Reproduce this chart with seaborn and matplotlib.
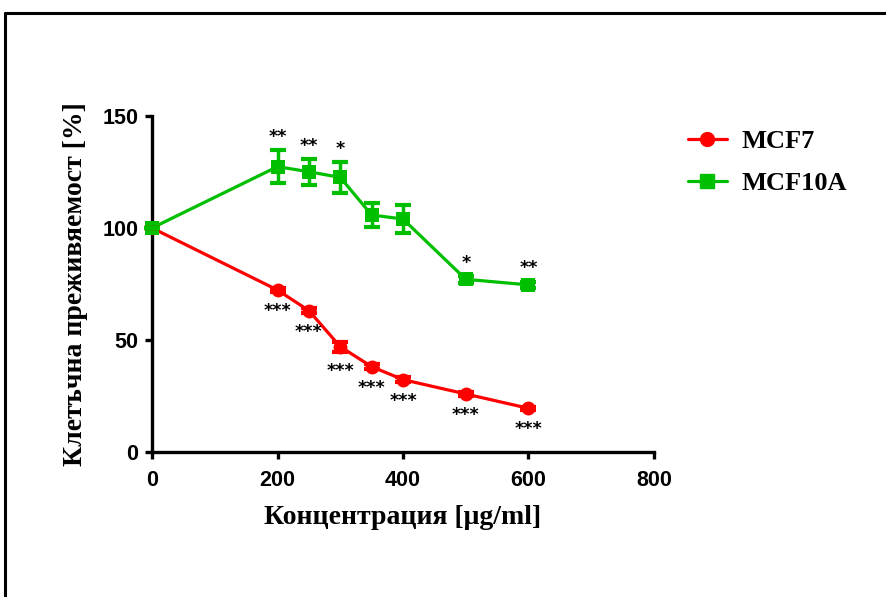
import matplotlib
matplotlib.use("Agg")
import matplotlib.pyplot as plt
import seaborn as sns
import pandas as pd
from matplotlib.lines import Line2D

conc = [0, 200, 250, 300, 350, 400, 500, 600]
mcf7 = [100, 72.3, 63.1, 47.0, 38.1, 32.3, 25.9, 19.5]
mcf7_err = [0, 1.0, 1.0, 2.2, 1.0, 1.0, 0.8, 0.8]
mcf10a = [100, 127.4, 125.1, 122.6, 105.8, 104.0, 77.1, 74.6]
mcf10a_err = [0, 7.4, 5.7, 6.8, 5.4, 6.2, 1.5, 1.5]
sig7 = ["", "***", "***", "***", "***", "***", "***", "***"]
sig10 = ["", "**", "**", "*", "", "", "*", "**"]
series = ["MCF7", "MCF10A"]
colors = {"MCF7": "#ff0000", "MCF10A": "#00bf00"}

df = pd.DataFrame({
    "conc": conc * 2,
    "val": mcf7 + mcf10a,
    "err": mcf7_err + mcf10a_err,
    "line": ["MCF7"] * len(conc) + ["MCF10A"] * len(conc),
})

sns.set_style("ticks")
plt.rcParams.update({"text.color": "black", "axes.labelcolor": "black",
                     "xtick.color": "black", "ytick.color": "black",
                     "axes.edgecolor": "black"})
fig = plt.figure(figsize=(8.87, 5.97), dpi=100)
ax = fig.add_axes([0.1714, 0.2429, 0.7373 - 0.1714, 0.8057 - 0.2429])

sns.lineplot(data=df, x="conc", y="val", hue="line", style="line",
             markers={"MCF7": "o", "MCF10A": "s"}, dashes=False,
             palette=colors, linewidth=2.3, markersize=10, markeredgewidth=0,
             ax=ax, legend=False, clip_on=False, zorder=3)
for name in series:
    sub = df[df["line"] == name]
    ax.errorbar(sub["conc"], sub["val"], yerr=sub["err"], fmt="none",
                ecolor=colors[name], elinewidth=2.5, capsize=6, capthick=3,
                clip_on=False, zorder=3)

sfont = dict(fontsize=12.5, fontweight="bold", family="DejaVu Sans", ha="center",
             color="black")
for x, y, e, s in zip(conc, mcf10a, mcf10a_err, sig10):
    if s:
        ax.text(x, y + e + 1.8, s, va="bottom", **sfont)
for x, y, e, s in zip(conc, mcf7, mcf7_err, sig7):
    if s:
        ax.text(x, y - e - 4.5, s, va="top", **sfont)

ax.set_xlim(0, 800)
ax.set_ylim(0, 150)
ax.set_xticks([0, 200, 400, 600, 800])
ax.set_yticks([0, 50, 100, 150])
for sp in ["top", "right"]:
    ax.spines[sp].set_visible(False)
for sp in ["left", "bottom"]:
    ax.spines[sp].set_linewidth(2.4)
ax.tick_params(width=2.4, length=5, direction="out")
ax.tick_params(axis="x", pad=8)
ax.tick_params(axis="y", pad=5)
for lab in ax.get_xticklabels() + ax.get_yticklabels():
    lab.set_fontfamily("Liberation Sans")
    lab.set_fontweight("bold")
    lab.set_fontsize(15.5)
ax.set_xlabel("Концентрация [μg/ml]", fontsize=20, fontweight="bold",
              family="Liberation Serif", labelpad=10)
ax.set_ylabel("Клетъчна преживяемост [%]", fontsize=20, fontweight="bold",
              family="Liberation Serif", labelpad=10)

handles = [Line2D([], [], color=colors["MCF7"], marker="o", lw=2.3, markersize=10),
           Line2D([], [], color=colors["MCF10A"], marker="s", lw=2.3, markersize=10)]
fig.legend(handles, series, loc="upper left", bbox_to_anchor=(0.776, 0.783),
           frameon=False, prop={"family": "Liberation Serif", "weight": "bold", "size": 19},
           handlelength=1.45, handletextpad=0.55, labelspacing=0.72, borderaxespad=0,
           borderpad=0)

fig.add_artist(Line2D([0.0056, 1.0], [0.979, 0.979], color="black", lw=2.2,
                      transform=fig.transFigure))
fig.add_artist(Line2D([0.0056, 0.0056], [0.0, 0.979], color="black", lw=2.2,
                      transform=fig.transFigure))

fig.savefig("out.png", dpi=100)
